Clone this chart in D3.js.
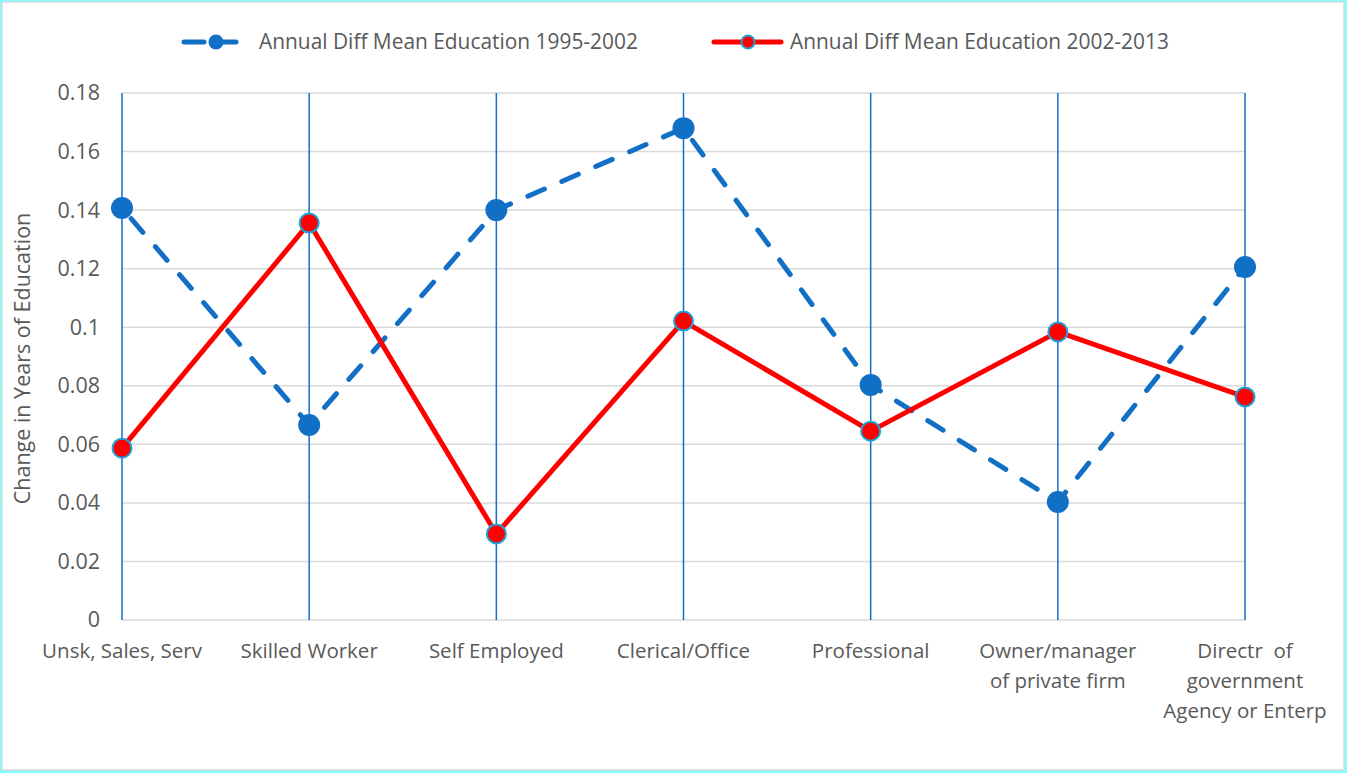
<!DOCTYPE html>
<html>
<head>
<meta charset="utf-8">
<script src="https://cdn.jsdelivr.net/npm/d3@7"></script>
<style>
  html, body { margin: 0; padding: 0; background: #fff; }
  svg { display: block; }
  text { font-family: "Open Sans", "Noto Sans", sans-serif; fill: #595959; white-space: pre; }
</style>
</head>
<body>
<svg id="chart" width="1347" height="773"></svg>
<script>
const categories = [
  ["Unsk, Sales, Serv"],
  ["Skilled Worker"],
  ["Self Employed"],
  ["Clerical/Office"],
  ["Professional"],
  ["Owner/manager", "of private firm"],
  ["Directr  of", "government", "Agency or Enterp"]
];
const series1Name = "Annual Diff Mean Education 1995-2002";
const series2Name = "Annual Diff Mean Education 2002-2013";
const series1 = [0.1407, 0.0666, 0.1400, 0.1680, 0.0803, 0.0403, 0.1206];
const series2 = [0.0587, 0.1356, 0.0294, 0.1021, 0.0645, 0.0984, 0.0762];
const yTicks = [0, 0.02, 0.04, 0.06, 0.08, 0.1, 0.12, 0.14, 0.16, 0.18];
const yTitle = "Change in Years of Education";

(function () {
const W = 1347, H = 773;
const svg = d3.select("#chart");
const blue = "#1170C6", red = "#FF0000", markerEdge = "#1AA3DD", grid = "#D9D9D9";
const fs = 20.5;

// frame
svg.append("rect").attr("x", 0).attr("y", 0).attr("width", W).attr("height", H).attr("fill", "#7FFFFF");
svg.append("rect").attr("x", 2).attr("y", 2).attr("width", W - 5).attr("height", H - 5)
  .attr("fill", "#fff").attr("stroke", grid).attr("stroke-width", 1.5);

const pLeft = 122, pRight = 1245, pTop = 93, pBottom = 620;
const x = d3.scalePoint().domain(d3.range(categories.length)).range([pLeft, pRight]).padding(0);
const y = d3.scaleLinear().domain([0, 0.18]).range([pBottom, pTop]);

// horizontal gridlines
svg.append("g").selectAll("line").data(yTicks).join("line")
  .attr("x1", pLeft).attr("x2", pRight)
  .attr("y1", d => y(d)).attr("y2", d => y(d))
  .attr("stroke", grid).attr("stroke-width", 1.5);

// vertical category lines
svg.append("g").selectAll("line").data(d3.range(categories.length)).join("line")
  .attr("x1", d => x(d)).attr("x2", d => x(d))
  .attr("y1", pTop).attr("y2", pBottom)
  .attr("stroke", blue).attr("stroke-width", 1.5);

// y axis tick labels
const yAxis = d3.axisLeft(y).tickValues(yTicks).tickSize(0).tickPadding(0)
  .tickFormat(d => d === 0 ? "0" : String(+d.toFixed(2)));
const ya = svg.append("g").attr("transform", `translate(${pLeft - 22},0)`).call(yAxis);
ya.select(".domain").remove();
ya.selectAll("text").attr("font-size", 21.5).attr("fill", "#595959")
  .style("font-family", '"Open Sans", sans-serif');

// y title
svg.append("text").attr("transform", `translate(30,${(pTop + pBottom) / 2 + 2}) rotate(-90)`)
  .attr("text-anchor", "middle").attr("font-size", 21.5).text(yTitle);

// x labels
const xl = svg.append("g").selectAll("text").data(categories).join("text")
  .attr("text-anchor", "middle").attr("font-size", fs)
  .attr("x", (d, i) => x(i)).attr("y", 658);
xl.selectAll("tspan").data(d => d).join("tspan")
  .attr("x", function () { return d3.select(this.parentNode).attr("x"); })
  .attr("dy", (d, i) => i === 0 ? 0 : 30)
  .text(d => d);

const line = d3.line().x((d, i) => x(i)).y(d => y(d));

// series 1 dashed blue
svg.append("path").datum(series1).attr("d", line).attr("fill", "none")
  .attr("stroke", blue).attr("stroke-width", 5).attr("stroke-linecap", "round")
  .attr("stroke-dasharray", "18 19").attr("stroke-dashoffset", -14);
// series 2 solid red
svg.append("path").datum(series2).attr("d", line).attr("fill", "none")
  .attr("stroke", red).attr("stroke-width", 5).attr("stroke-linejoin", "round");

svg.append("g").selectAll("circle").data(series1).join("circle")
  .attr("cx", (d, i) => x(i)).attr("cy", d => y(d)).attr("r", 11).attr("fill", blue);
svg.append("g").selectAll("circle").data(series2).join("circle")
  .attr("cx", (d, i) => x(i)).attr("cy", d => y(d)).attr("r", 9.5)
  .attr("fill", red).attr("stroke", markerEdge).attr("stroke-width", 2);

// legend
const lg = svg.append("g");
lg.append("line").attr("x1", 184).attr("x2", 240).attr("y1", 42).attr("y2", 42)
  .attr("stroke", blue).attr("stroke-width", 5).attr("stroke-linecap", "round")
  .attr("stroke-dasharray", "20 12");
lg.append("circle").attr("cx", 216).attr("cy", 42).attr("r", 7.5).attr("fill", blue);
lg.append("text").attr("x", 259).attr("y", 49).attr("font-size", 20.9).text(series1Name);
lg.append("line").attr("x1", 714).attr("x2", 781).attr("y1", 42).attr("y2", 42)
  .attr("stroke", red).attr("stroke-width", 5).attr("stroke-linecap", "round");
lg.append("circle").attr("cx", 748).attr("cy", 42).attr("r", 6.5).attr("fill", red)
  .attr("stroke", markerEdge).attr("stroke-width", 2);
lg.append("text").attr("x", 790).attr("y", 49).attr("font-size", 20.9).text(series2Name);
})();
</script>
</body>
</html>
